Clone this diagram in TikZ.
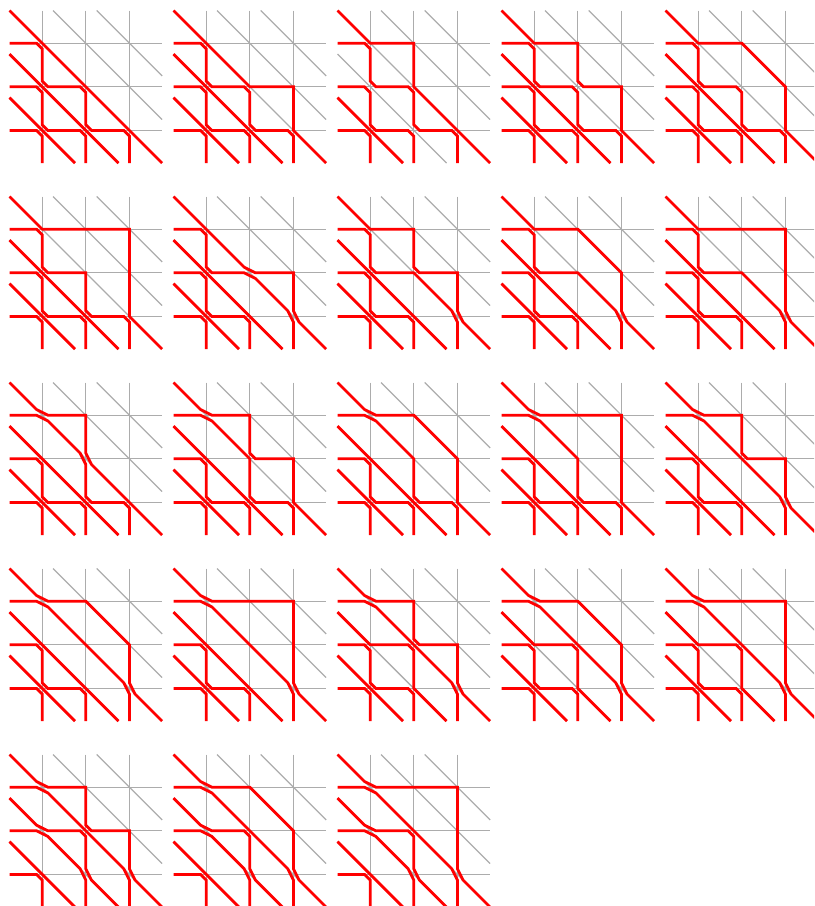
\documentclass[tikz,border=0pt]{standalone}
\definecolor{gridgray}{RGB}{172,172,172}
\newcommand\dd{0.13}
\newcommand\pWS[2]{-- ({#1-\dd},#2) -- (#1,{#2+\dd})}
\newcommand\pNE[2]{-- (#1,{#2-\dd}) -- ({#1+\dd},#2)}
\newcommand\pDE[2]{-- ({#1-\dd},{#2-\dd}) -- ({#1+\dd},#2)}
\newcommand\pWD[2]{-- ({#1-\dd},#2) -- ({#1+\dd},{#2+\dd})}
\newcommand\pND[2]{-- (#1,{#2-\dd}) -- ({#1+\dd},{#2+\dd})}
\newcommand\pDS[2]{-- ({#1-\dd},{#2-\dd}) -- (#1,{#2+\dd})}
\newcommand\pV[2]{-- (#1,#2)}
\newcommand\gridlines{%
  \foreach \i in {1,2,3} {\draw[gridline] (0.25,\i) -- (3.75,\i); \draw[gridline] (\i,0.25) -- (\i,3.75);}
  \draw[gridline] (0.25,0.25) -- (3.75,3.75);
  \draw[gridline] (1.25,0.25) -- (3.75,2.75);
  \draw[gridline] (2.25,0.25) -- (3.75,1.75);
  \draw[gridline] (0.25,1.25) -- (2.75,3.75);
  \draw[gridline] (0.25,2.25) -- (1.75,3.75);}
\newcommand\panel[3]{%
  \begin{scope}[shift={({-0.032+3.7615*#1},{-0.009+4.2661*#2})}]
    \gridlines
    #3
  \end{scope}}
\newcommand\rowtwo{\draw[pipe] (0.25,2) \pWS{1}{2} \pNE{1}{3} \pWS{2}{3} -- (2,3.75);}
\newcommand\rowthree{\draw[pipe] (0.25,3) \pWS{1}{3} -- (1,3.75);}
\newcommand\dmtwo{\draw[pipe] (0.25,2.25) -- (1.75,3.75);}
\newcommand\dmone{\draw[pipe] (0.25,1.25) -- (2.75,3.75);}
\newcommand\rowoneA{\draw[pipe] (0.25,1) \pWS{1}{1} \pNE{1}{2} \pWS{2}{2} \pNE{2}{3} \pWS{3}{3} -- (3,3.75);}
\newcommand\rowoneB{\draw[pipe] (0.25,1) \pWS{1}{1} \pNE{1}{2} \pV{2}{2} \pDS{3}{3} -- (3,3.75);}
\newcommand\rowoneC{\draw[pipe] (0.25,1) \pWD{1}{1} \pV{2}{2} \pNE{2}{3} \pWS{3}{3} -- (3,3.75);}
\newcommand\rowoneD{\draw[pipe] (0.25,1) \pWD{1}{1} \pDS{3}{3} -- (3,3.75);}
\newcommand\lowstd{\dmone \rowtwo \rowthree \dmtwo}
\begin{document}
\begin{tikzpicture}[x=32.7pt,y=-32.7pt,
  gridline/.style={draw=gridgray, line width=0.95pt},
  pipe/.style={draw=red, line width=2.1pt, line join=miter}]
\useasboundingbox (0,0) rectangle (18.670,20.780);
\clip (0,0) rectangle (18.670,20.780);
% row 1
\panel{0}{0}{\rowoneA \draw[pipe] (0.25,0.25) -- (3.75,3.75); \lowstd}
\panel{1}{0}{\rowoneA \draw[pipe] (0.25,0.25) \pV{2}{2} \pV{3}{2} \pV{3}{3} -- (3.75,3.75); \lowstd}
\panel{2}{0}{\rowoneA \draw[pipe] (0.25,0.25) \pV{1}{1} \pV{2}{1} \pV{2}{2} -- (3.75,3.75); \rowtwo \rowthree \dmtwo}
\panel{3}{0}{\rowoneA \draw[pipe] (0.25,0.25) \pV{1}{1} \pV{2}{1} \pNE{2}{2} \pV{3}{2} \pV{3}{3} -- (3.75,3.75); \lowstd}
\panel{4}{0}{\rowoneA \draw[pipe] (0.25,0.25) \pV{1}{1} \pV{2}{1} \pV{3}{2} \pV{3}{3} -- (3.75,3.75); \lowstd}
% row 2
\panel{0}{1}{\draw[pipe] (0.25,1) \pWS{1}{1} \pNE{1}{2} \pV{2}{2} \pNE{2}{3} \pWS{3}{3} -- (3,3.75);
  \draw[pipe] (0.25,0.25) \pV{1}{1} \pV{3}{1} \pV{3}{3} -- (3.75,3.75); \lowstd}
\panel{1}{1}{\draw[pipe] (0.25,1) \pWS{1}{1} \pNE{1}{2} \pWD{2}{2} \pDS{3}{3} -- (3,3.75);
  \draw[pipe] (0.25,0.25) \pDE{2}{2} \pV{3}{2} \pND{3}{3} -- (3.75,3.75); \lowstd}
\panel{2}{1}{\rowoneB \draw[pipe] (0.25,0.25) \pV{1}{1} \pV{2}{1} \pNE{2}{2} \pV{3}{2} \pND{3}{3} -- (3.75,3.75); \lowstd}
\panel{3}{1}{\rowoneB \draw[pipe] (0.25,0.25) \pV{1}{1} \pV{2}{1} \pV{3}{2} \pND{3}{3} -- (3.75,3.75); \lowstd}
\panel{4}{1}{\rowoneB \draw[pipe] (0.25,0.25) \pV{1}{1} \pV{3}{1} \pND{3}{3} -- (3.75,3.75); \lowstd}
% row 3
\panel{0}{2}{\draw[pipe] (0.25,1) \pWD{1}{1} \pDS{2}{2} \pNE{2}{3} \pWS{3}{3} -- (3,3.75);
  \draw[pipe] (0.25,0.25) \pDE{1}{1} \pV{2}{1} \pND{2}{2} -- (3.75,3.75); \lowstd}
\panel{1}{2}{\rowoneC \draw[pipe] (0.25,0.25) \pDE{1}{1} \pV{2}{1} \pNE{2}{2} \pV{3}{2} \pV{3}{3} -- (3.75,3.75); \lowstd}
\panel{2}{2}{\rowoneC \draw[pipe] (0.25,0.25) \pDE{1}{1} \pV{2}{1} \pV{3}{2} \pV{3}{3} -- (3.75,3.75); \lowstd}
\panel{3}{2}{\rowoneC \draw[pipe] (0.25,0.25) \pDE{1}{1} \pV{3}{1} \pV{3}{3} -- (3.75,3.75); \lowstd}
\panel{4}{2}{\rowoneD \draw[pipe] (0.25,0.25) \pDE{1}{1} \pV{2}{1} \pNE{2}{2} \pV{3}{2} \pND{3}{3} -- (3.75,3.75); \lowstd}
% row 4
\panel{0}{3}{\rowoneD \draw[pipe] (0.25,0.25) \pDE{1}{1} \pV{2}{1} \pV{3}{2} \pND{3}{3} -- (3.75,3.75); \lowstd}
\panel{1}{3}{\rowoneD \draw[pipe] (0.25,0.25) \pDE{1}{1} \pV{3}{1} \pND{3}{3} -- (3.75,3.75); \lowstd}
\panel{2}{3}{\rowoneD \draw[pipe] (0.25,0.25) \pDE{1}{1} \pV{2}{1} \pNE{2}{2} \pV{3}{2} \pND{3}{3} -- (3.75,3.75);
  \draw[pipe] (0.25,1.25) \pV{1}{2} \pWS{2}{2} \pV{2}{3} -- (2.75,3.75); \rowtwo \rowthree \dmtwo}
\panel{3}{3}{\rowoneD \draw[pipe] (0.25,0.25) \pDE{1}{1} \pV{2}{1} \pV{3}{2} \pND{3}{3} -- (3.75,3.75);
  \draw[pipe] (0.25,1.25) \pV{1}{2} \pWS{2}{2} \pV{2}{3} -- (2.75,3.75); \rowtwo \rowthree \dmtwo}
\panel{4}{3}{\rowoneD \draw[pipe] (0.25,0.25) \pDE{1}{1} \pV{3}{1} \pND{3}{3} -- (3.75,3.75);
  \draw[pipe] (0.25,1.25) \pV{1}{2} \pWS{2}{2} \pV{2}{3} -- (2.75,3.75); \rowtwo \rowthree \dmtwo}
% row 5
\panel{0}{4}{\rowoneD \draw[pipe] (0.25,0.25) \pDE{1}{1} \pV{2}{1} \pNE{2}{2} \pV{3}{2} \pND{3}{3} -- (3.75,3.75);
  \draw[pipe] (0.25,1.25) \pDE{1}{2} \pWS{2}{2} \pND{2}{3} -- (2.75,3.75);
  \draw[pipe] (0.25,2) \pWD{1}{2} \pDS{2}{3} -- (2,3.75); \rowthree \dmtwo}
\panel{1}{4}{\rowoneD \draw[pipe] (0.25,0.25) \pDE{1}{1} \pV{2}{1} \pV{3}{2} \pND{3}{3} -- (3.75,3.75);
  \draw[pipe] (0.25,1.25) \pDE{1}{2} \pWS{2}{2} \pND{2}{3} -- (2.75,3.75);
  \draw[pipe] (0.25,2) \pWD{1}{2} \pDS{2}{3} -- (2,3.75); \rowthree \dmtwo}
\panel{2}{4}{\rowoneD \draw[pipe] (0.25,0.25) \pDE{1}{1} \pV{3}{1} \pND{3}{3} -- (3.75,3.75);
  \draw[pipe] (0.25,1.25) \pDE{1}{2} \pWS{2}{2} \pND{2}{3} -- (2.75,3.75);
  \draw[pipe] (0.25,2) \pWD{1}{2} \pDS{2}{3} -- (2,3.75); \rowthree \dmtwo}
\end{tikzpicture}
\end{document}
